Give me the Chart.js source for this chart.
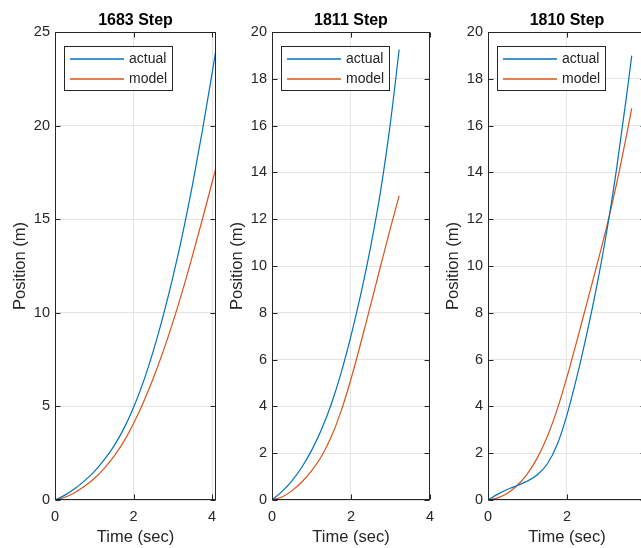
<!DOCTYPE html>
<html>
<head>
<meta charset="utf-8">
<script src="https://cdn.jsdelivr.net/npm/chart.js@4.4.1/dist/chart.umd.min.js"></script>
<style>
  html, body { margin: 0; padding: 0; background: #ffffff; overflow: hidden; width: 641px; height: 548px; }
  canvas { position: absolute; top: 0; }
</style>
</head>
<body>
<canvas id="c1683" width="226" height="548" style="left:0px"></canvas>
<canvas id="c1811" width="225" height="548" style="left:217px"></canvas>
<canvas id="c1810" width="225" height="548" style="left:433px"></canvas>
<script>
// Step response runs: measured position vs. model prediction
const seriesNames = ['actual', 'model'];
const seriesColors = ['#0072BD', '#D95319'];

const t1683 = [0, 0.25, 0.5, 0.75, 1.0, 1.25, 1.5, 1.75, 2.0, 2.25, 2.5, 2.75, 3.0, 3.25, 3.5, 3.75, 4.0, 4.1];
const actual1683 = [0, 0.26, 0.60, 1.02, 1.52, 2.14, 2.88, 3.80, 4.94, 6.31, 7.94, 9.80, 11.89, 14.22, 16.82, 19.69, 22.79, 24.08];
const model1683 = [0, 0.15, 0.39, 0.73, 1.15, 1.68, 2.33, 3.12, 4.09, 5.21, 6.49, 7.91, 9.49, 11.20, 13.04, 14.97, 16.96, 17.76];

const t1811 = [0, 0.25, 0.5, 0.75, 1.0, 1.25, 1.5, 1.75, 2.0, 2.25, 2.5, 2.75, 3.0, 3.22];
const actual1811 = [0, 0.36, 0.81, 1.39, 2.11, 3.00, 4.09, 5.43, 7.01, 8.81, 10.84, 13.21, 16.14, 19.25];
const model1811 = [0, 0.125, 0.39, 0.76, 1.24, 1.86, 2.70, 3.80, 5.17, 6.72, 8.35, 10.0, 11.63, 13.01];

const t1810 = [0, 0.25, 0.5, 0.75, 1.0, 1.25, 1.5, 1.75, 2.0, 2.25, 2.5, 2.75, 3.0, 3.25, 3.5, 3.64];
const actual1810 = [0, 0.25, 0.46, 0.63, 0.81, 1.08, 1.54, 2.36, 3.64, 5.26, 7.09, 9.11, 11.41, 14.09, 17.16, 18.99];
const model1810 = [0, 0.09, 0.30, 0.64, 1.13, 1.80, 2.70, 3.86, 5.26, 6.80, 8.39, 9.99, 11.64, 13.47, 15.52, 16.74];

const xTicks = [0, 2, 4];
const yTicks1683 = [0, 5, 10, 15, 20, 25];
const yTicks18xx = [0, 2, 4, 6, 8, 10, 12, 14, 16, 18, 20];

const INK = '#262626';
const GRID = '#e4e4e4';
const FONT = '"Liberation Sans", Arial, Helvetica, sans-serif';

// Box frame, inward ticks, title, axis labels and the in-axes legend
const matlabAxes = {
  id: 'matlabAxes',
  afterDraw(chart, args, opts) {
    const ctx = chart.ctx;
    const a = chart.chartArea;
    const xs = chart.scales.x, ys = chart.scales.y;
    ctx.save();
    ctx.strokeStyle = INK;
    ctx.lineWidth = 1;
    const L = Math.round(a.left) + 0.5, R = Math.round(a.right) - 0.5;
    const T = Math.round(a.top) + 0.5, B = Math.round(a.bottom) - 0.5;
    ctx.strokeRect(L, T, R - L, B - T);
    const tl = 5;
    ctx.beginPath();
    xs.ticks.forEach(tk => {
      const px = Math.round(xs.getPixelForValue(tk.value)) + 0.5;
      ctx.moveTo(px, B); ctx.lineTo(px, B - tl);
      ctx.moveTo(px, T); ctx.lineTo(px, T + tl);
    });
    ys.ticks.forEach(tk => {
      const py = Math.round(ys.getPixelForValue(tk.value)) + 0.5;
      ctx.moveTo(L, py); ctx.lineTo(L + tl, py);
      ctx.moveTo(R, py); ctx.lineTo(R - tl, py);
    });
    ctx.stroke();

    // title
    const cx = (a.left + a.right) / 2;
    ctx.fillStyle = '#000000';
    ctx.font = 'bold 16px ' + FONT;
    ctx.textAlign = 'center';
    ctx.textBaseline = 'alphabetic';
    ctx.fillText(opts.title, cx, a.top - 7.5);

    // axis labels
    ctx.fillStyle = INK;
    ctx.font = '16.5px ' + FONT;
    ctx.fillText('Time (sec)', cx, a.bottom + 42);
    ctx.save();
    ctx.translate(a.left - 30, (a.top + a.bottom) / 2);
    ctx.rotate(-Math.PI / 2);
    ctx.fillText('Position (m)', 0, 0);
    ctx.restore();

    // legend
    const lx = a.left + 9, ly = a.top + 14, lw = 108, lh = 44;
    ctx.fillStyle = '#ffffff';
    ctx.fillRect(lx, ly, lw, lh);
    ctx.strokeStyle = INK;
    ctx.lineWidth = 1;
    ctx.strokeRect(Math.round(lx) + 0.5, Math.round(ly) + 0.5, lw, lh);
    ctx.font = '14px ' + FONT;
    ctx.textAlign = 'left';
    ctx.textBaseline = 'middle';
    seriesNames.forEach((name, i) => {
      const yy = Math.round(ly + 13 + i * 20);
      ctx.strokeStyle = seriesColors[i];
      ctx.lineWidth = 1.3;
      ctx.beginPath();
      ctx.moveTo(lx + 6, yy);
      ctx.lineTo(lx + 60, yy);
      ctx.stroke();
      ctx.fillStyle = INK;
      ctx.fillText(name, lx + 65, yy);
    });
    ctx.restore();
  }
};

function makeChart(id, title, t, actual, model, xMax, yTicks) {
  const series = [actual, model];
  new Chart(document.getElementById(id), {
    type: 'line',
    data: {
      datasets: series.map((vals, i) => ({
        label: seriesNames[i],
        data: t.map((tt, k) => ({ x: tt, y: vals[k] })),
        borderColor: seriesColors[i],
        borderWidth: 1.2,
        pointRadius: 0,
        fill: false,
        cubicInterpolationMode: 'monotone'
      }))
    },
    options: {
      responsive: false,
      animation: false,
      events: [],
      layout: { padding: { left: 0, right: 10, top: 32, bottom: 0 } },
      plugins: {
        legend: { display: false },
        tooltip: { enabled: false },
        matlabAxes: { title: title }
      },
      scales: {
        x: {
          type: 'linear',
          min: 0,
          max: xMax,
          afterBuildTicks: s => { s.ticks = xTicks.map(v => ({ value: v })); },
          afterFit: s => { s.height = 48; },
          grid: { color: GRID, lineWidth: 1, drawTicks: false },
          border: { display: false },
          ticks: { color: INK, font: { size: 14.5, family: FONT }, padding: 8, maxRotation: 0 }
        },
        y: {
          type: 'linear',
          min: 0,
          max: yTicks[yTicks.length - 1],
          afterBuildTicks: s => { s.ticks = yTicks.map(v => ({ value: v })); },
          afterFit: s => { s.width = 55; },
          grid: { color: GRID, lineWidth: 1, drawTicks: false },
          border: { display: false },
          ticks: { color: INK, font: { size: 14.5, family: FONT }, padding: 5 }
        }
      }
    },
    plugins: [matlabAxes]
  });
}

makeChart('c1683', '1683 Step', t1683, actual1683, model1683, 4.1, yTicks1683);
makeChart('c1811', '1811 Step', t1811, actual1811, model1811, 4, yTicks18xx);
makeChart('c1810', '1810 Step', t1810, actual1810, model1810, 4, yTicks18xx);
</script>
</body>
</html>
